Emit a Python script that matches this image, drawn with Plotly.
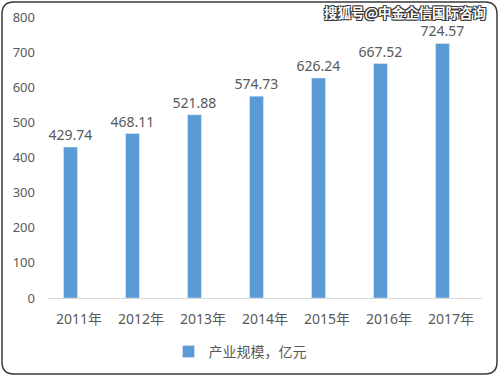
import plotly.graph_objects as go

categories = ["2011年", "2012年", "2013年", "2014年", "2015年", "2016年", "2017年"]
values = [429.74, 468.11, 521.88, 574.73, 626.24, 667.52, 724.57]
series_name = "产业规模，亿元"
y_ticks = [0, 100, 200, 300, 400, 500, 600, 700, 800]

W, H = 499, 377
L, R, T, B = 48, 17, 17, 79
pw, ph = W - L - R, H - T - B

def px2paper(x, y):
    return (x - L) / pw, (H - B - y) / ph

FONT = "Noto Sans, Noto Sans CJK SC, sans-serif"
GRAY = "#595959"

fig = go.Figure()
fig.add_trace(go.Bar(
    x=categories, y=values, name=series_name,
    marker_color="#5B9BD5",
    width=0.225, offset=-0.25,
    text=[f"{v:.2f}" for v in values],
    textposition="outside", cliponaxis=False, constraintext="none",
    textfont=dict(size=14, color=GRAY, family=FONT),
))

# rounded border
x0, y0 = px2paper(2, 2)
x1, y1 = px2paper(497, 374)
rx = 12 / pw
ry = 12 / ph
path = (f"M {x0+rx},{y0} L {x1-rx},{y0} Q {x1},{y0} {x1},{y0-ry} "
        f"L {x1},{y1+ry} Q {x1},{y1} {x1-rx},{y1} "
        f"L {x0+rx},{y1} Q {x0},{y1} {x0},{y1+ry} "
        f"L {x0},{y0-ry} Q {x0},{y0} {x0+rx},{y0} Z")
fig.add_shape(type="path", path=path, xref="paper", yref="paper",
              line=dict(color="#3a3a3a", width=1.5), layer="above")

wx, wy = px2paper(487, 12)
fig.add_annotation(x=wx, y=wy, xref="paper", yref="paper", xanchor="right", yanchor="middle",
                   text="<b>搜狐号@中金企信国际咨询</b>", showarrow=False, borderpad=0,
                   font=dict(size=13.5, color="white", family="Noto Sans CJK SC",
                             shadow="1px 1px 0 #333, -1px -1px 0 #333, 1px -1px 0 #333, -1px 1px 0 #333"))

fig.update_layout(
    width=W, height=H,
    margin=dict(l=L, r=R, t=T, b=B, autoexpand=False),
    paper_bgcolor="white", plot_bgcolor="white",
    showlegend=True,
    legend=dict(orientation="h", x=0.5 - 25 / pw, xanchor="center", y=px2paper(0, 352)[1], yanchor="middle",
                font=dict(size=14, color=GRAY, family=FONT), itemwidth=30),
    font=dict(family=FONT, color=GRAY),
    xaxis=dict(showline=True, linecolor="#D9D9D9", linewidth=1, ticks="",
               tickfont=dict(size=14, color=GRAY, family=FONT), showgrid=False,
               ticklabelstandoff=8),
    yaxis=dict(range=[0, 800], tickvals=y_ticks, showgrid=False, zeroline=False,
               showline=False, tickfont=dict(size=13, color=GRAY, family=FONT), ticklabelstandoff=12),
    bargap=0.5,
)

fig.write_html("out.html", config={"displayModeBar": False},
               post_script="document.body.style.margin='0';")
